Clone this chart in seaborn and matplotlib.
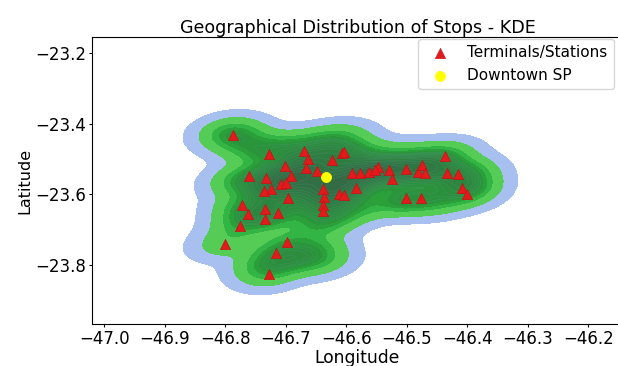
import numpy as np
import seaborn as sns
import matplotlib.pyplot as plt
from matplotlib.colors import LinearSegmentedColormap, ListedColormap, to_hex

# terminal / station coordinates
term_lon = [-46.787, -46.727, -46.670, -46.663, -46.667, -46.701, -46.691, -46.732,
            -46.761, -46.707, -46.700, -46.724, -46.736, -46.696, -46.773, -46.763,
            -46.734, -46.735, -46.712, -46.776, -46.801, -46.698, -46.716, -46.728,
            -46.624, -46.607, -46.603, -46.648, -46.638, -46.637, -46.639, -46.639,
            -46.612, -46.603, -46.584, -46.590, -46.577, -46.563, -46.547, -46.530,
            -46.524, -46.502, -46.501, -46.477, -46.481, -46.474, -46.470, -46.436,
            -46.433, -46.415, -46.408, -46.400, -46.552]
term_lat = [-23.432, -23.487, -23.477, -23.500, -23.526, -23.520, -23.548, -23.553,
            -23.548, -23.572, -23.567, -23.585, -23.590, -23.611, -23.630, -23.656,
            -23.642, -23.670, -23.654, -23.690, -23.741, -23.736, -23.766, -23.827,
            -23.503, -23.484, -23.479, -23.534, -23.586, -23.607, -23.630, -23.647,
            -23.599, -23.602, -23.581, -23.540, -23.539, -23.536, -23.523, -23.531,
            -23.557, -23.529, -23.611, -23.611, -23.536, -23.517, -23.540, -23.491,
            -23.539, -23.543, -23.581, -23.600, -23.531]

# other bus stops (estimated from the density shape), added to the terminals
extra_lon = [-46.795, -46.770, -46.750, -46.700, -46.640, -46.610, -46.560, -46.500,
             -46.450, -46.400, -46.395, -46.520, -46.450, -46.580, -46.620, -46.650,
             -46.700, -46.670, -46.740, -46.650, -46.780, -46.640, -46.600,
             -46.660, -46.620, -46.680, -46.640]
extra_lat = [-23.420, -23.450, -23.470, -23.460, -23.450, -23.440, -23.490, -23.495,
             -23.500, -23.540, -23.575, -23.620, -23.620, -23.640, -23.670, -23.690,
             -23.790, -23.780, -23.800, -23.750, -23.565, -23.560, -23.550,
             -23.580, -23.570, -23.540, -23.790]
stop_lon = term_lon + extra_lon
stop_lat = term_lat + extra_lat

downtown_lon = [-46.6333]
downtown_lat = [-23.5505]

plt.rcParams['font.family'] = ['DejaVu Sans']
plt.rcParams['font.size'] = 12
plt.rcParams['xtick.major.size'] = 2
plt.rcParams['ytick.major.size'] = 2
plt.rcParams['xtick.major.pad'] = 2.2
plt.rcParams['ytick.major.pad'] = 2

fig = plt.figure(figsize=(6.18, 3.66), dpi=100)
ax = fig.add_axes([92 / 618, 1 - 324 / 366, 531 / 618, (324 - 37.4) / 366])

bw = 0.6
# outer blue density layer
sns.kdeplot(x=stop_lon, y=stop_lat, fill=True, levels=[0.005, 1.0],
            cmap=ListedColormap(['#a8c0f0']), bw_adjust=bw, ax=ax)

# green bands, one kde call per band so each gets its own colour
lv = np.concatenate([[0.035, 0.12, 0.2, 0.27], np.linspace(0.33, 1.0, 13)])
dark = LinearSegmentedColormap.from_list('d', ['#2a963b', '#2c8a3e', '#2f7a42', '#336b45'])
band_colors = ['#55cc55', '#33b545', '#2a9f3a'] + [
    to_hex(dark(t)) for t in np.linspace(0, 1, len(lv) - 4)]
for i, c in enumerate(band_colors):
    sns.kdeplot(x=stop_lon, y=stop_lat, fill=True, levels=[lv[i], 1.0],
                cmap=ListedColormap([c]), bw_adjust=bw, ax=ax)
sns.kdeplot(x=stop_lon, y=stop_lat, levels=lv[4:], color='#6a9aa8',
            linewidths=0.35, alpha=0.35, bw_adjust=bw, ax=ax)

sns.scatterplot(x=term_lon, y=term_lat, marker='^', s=55, color='#e31a1c',
                edgecolor='#c01010', linewidth=0.4, label='Terminals/Stations', ax=ax, zorder=5)
sns.scatterplot(x=downtown_lon, y=downtown_lat, marker='o', s=52, color='yellow',
                edgecolor='yellow', label='Downtown SP', ax=ax, zorder=6)

ax.set_xlim(-47.0202, -46.1425)
ax.set_ylim(-23.968, -23.155)
ax.set_xticks(np.round(np.arange(-47.0, -46.15, 0.1), 1))
ax.set_yticks([-23.2, -23.4, -23.6, -23.8])
ax.set_xlabel('Longitude', fontsize=12.3, labelpad=0.5)
ax.set_ylabel('Latitude', fontsize=11.5, labelpad=2)
ax.set_title('Geographical Distribution of Stops - KDE', fontsize=12.6, pad=3.5)
ax.legend(loc='upper right', bbox_to_anchor=(613.7 / 618, 1 - 39.3 / 366),
          bbox_transform=fig.transFigure, borderaxespad=0, fontsize=11)

fig.savefig('out.png', dpi=100)
